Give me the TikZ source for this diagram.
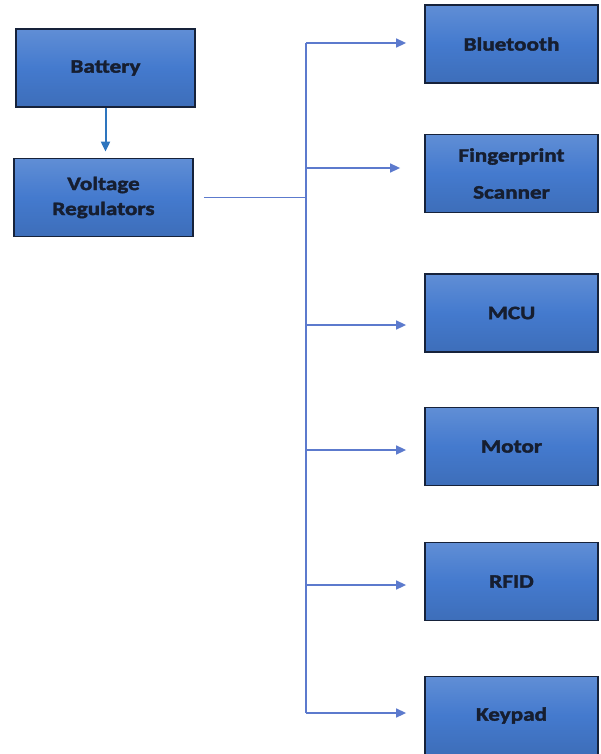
\documentclass[tikz,border=0pt]{standalone}
\usepackage{fontspec}
\setmainfont{Carlito}[BoldFeatures={FakeBold=2,FakeStretch=1.22}]
\usetikzlibrary{arrows.meta,calc,positioning}

\definecolor{boxblue}{RGB}{68,122,206}
\definecolor{boxedge}{RGB}{22,34,58}
\definecolor{textnavy}{RGB}{22,30,48}
\definecolor{wireblue}{RGB}{92,122,205}
\definecolor{downblue}{RGB}{46,117,190}

\begin{document}
\begin{tikzpicture}
[
	              x = 1pt, y = -1pt,
	           >= {Triangle[length=10pt,width=9pt]},
	  block/.style = { draw=boxedge, line width=1.8pt, top color=boxblue!85!white,
	                   bottom color=boxblue!90!black, middle color=boxblue,
	                   minimum width=179pt, minimum height=78pt, inner sep=2pt,
	                   align=center, text=textnavy, font=\fontsize{19}{25}\selectfont\bfseries },
	 wblock/.style = { block, minimum width=173pt },
	   wire/.style = { draw=wireblue, line width=1.5pt },
	  arrow/.style = { wire, ->, shorten >=18pt }
]
    \useasboundingbox (0,0) rectangle (600,754);

    \node (Battery)     at (105.5, 68)  [block]  {Battery};
    \node (Regulators)  at (103.5,197.5)[block]  {Voltage\\Regulators};

    \node (Bluetooth)   at (511.5, 44)  [wblock] {Bluetooth};
    \node (Fingerprint) at (511.5,173.5)[wblock] {Fingerprint\\[12pt]Scanner};
    \node (MCU)         at (511.5,313)  [wblock] {MCU};
    \node (Motor)       at (511.5,446.5)[wblock] {Motor};
    \node (RFID)        at (511.5,581.5)[wblock] {RFID};
    \node (Keypad)      at (511.5,715.5)[wblock] {Keypad};

    \coordinate (BusTop)    at (306, 43);
    \coordinate (BusBottom) at (306,713);
    \coordinate (BusA) at (306,168);
    \coordinate (BusB) at (306,325);
    \coordinate (BusC) at (306,450);
    \coordinate (BusD) at (306,585);

    \draw[wire] (BusTop) -- (BusBottom);
    \draw[wire, shorten <=10pt] (Regulators.east) -- (Regulators.east -| BusTop);
    \draw[arrow, draw=downblue, line width=2pt, shorten >=6pt]
        (Battery.south) -- (Battery.south |- Regulators.north);

    \draw[arrow] (BusTop)    -- (BusTop -| Bluetooth.west);
    \draw[arrow, shorten >=24pt] (BusA) -- (BusA -| Fingerprint.west);
    \draw[arrow] (BusB)      -- (BusB -| MCU.west);
    \draw[arrow] (BusC)      -- (BusC -| Motor.west);
    \draw[arrow] (BusD)      -- (BusD -| RFID.west);
    \draw[arrow] (BusBottom) -- (BusBottom -| Keypad.west);

\end{tikzpicture}
\end{document}
